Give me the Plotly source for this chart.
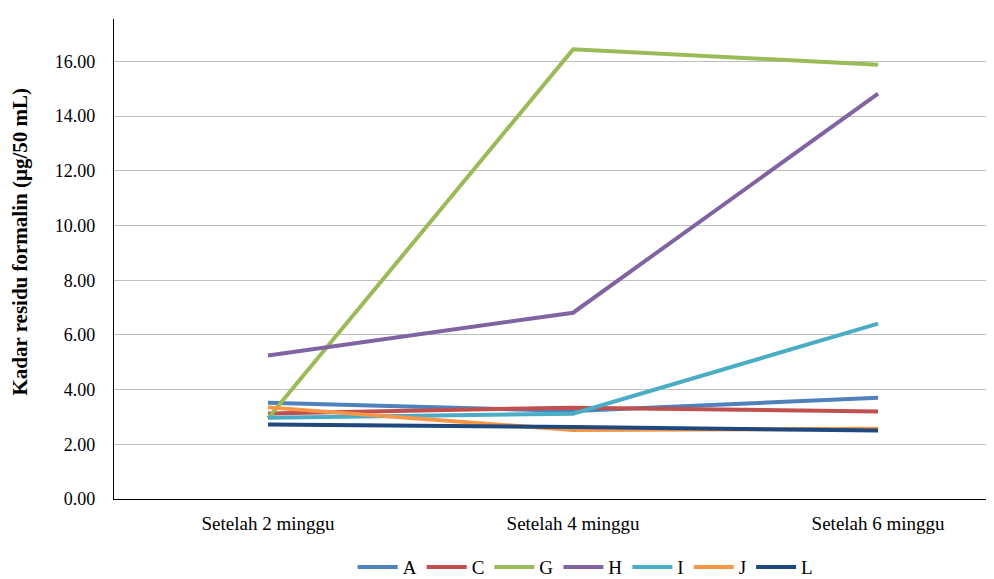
import plotly.graph_objects as go

categories = ["Setelah 2 minggu", "Setelah 4 minggu", "Setelah 6 minggu"]
series_names = ["A", "C", "G", "H", "I", "J", "L"]
A = [3.52, 3.22, 3.70]
C = [3.13, 3.34, 3.20]
G = [2.95, 16.44, 15.88]
H = [5.25, 6.81, 14.82]
I = [2.97, 3.12, 6.41]
J = [3.35, 2.52, 2.57]
L = [2.72, 2.63, 2.50]
series_values = [A, C, G, H, I, J, L]
colors = ["#4F81BD", "#C0504D", "#9BBB59", "#8064A2", "#4BACC6", "#F79646", "#1F497D"]
y_ticks = [0, 2, 4, 6, 8, 10, 12, 14, 16]

font_family = "Liberation Serif, DejaVu Serif, serif"

fig = go.Figure()
for name, vals, col in zip(series_names, series_values, colors):
    fig.add_trace(go.Scatter(
        x=list(range(len(categories))), y=vals, name=name, mode="lines",
        line=dict(color=col, width=4),
    ))

fig.update_layout(
    width=994, height=579,
    margin=dict(l=106, r=8, t=11, b=88, autoexpand=False),
    paper_bgcolor="white", plot_bgcolor="white",
    font=dict(family=font_family, size=17, color="#000000"),
    showlegend=True,
    legend=dict(orientation="h", x=0.536, xanchor="center", y=-0.142, yanchor="middle",
                font=dict(family=font_family, size=19), itemwidth=40, tracegroupgap=0),
    annotations=[dict(
        text="<b>Kadar residu formalin (µg/50 mL)</b>", textangle=-90,
        xref="paper", yref="paper", x=-0.107, y=0.536, xanchor="center", yanchor="middle",
        showarrow=False, font=dict(family=font_family, size=21, color="#000000"),
    )],
)
fig.update_xaxes(
    tickmode="array", tickvals=list(range(len(categories))), ticktext=categories,
    range=[-0.505, 2.38], showgrid=False, zeroline=False, automargin=False,
    showline=True, linecolor="#000000", linewidth=1.2,
    tickfont=dict(family=font_family, size=19), ticks="", ticklabelstandoff=7,
)
fig.update_yaxes(
    range=[0, 17.55], tickmode="array", tickvals=y_ticks,
    ticktext=[f"{v:.2f}" for v in y_ticks], automargin=False,
    showgrid=True, gridcolor="#BFBFBF", gridwidth=1.2, zeroline=False,
    showline=True, linecolor="#000000", linewidth=1.2,
    ticks="", ticklabelstandoff=14,
    tickfont=dict(family=font_family, size=18),
)

fig.write_html("out.html")
